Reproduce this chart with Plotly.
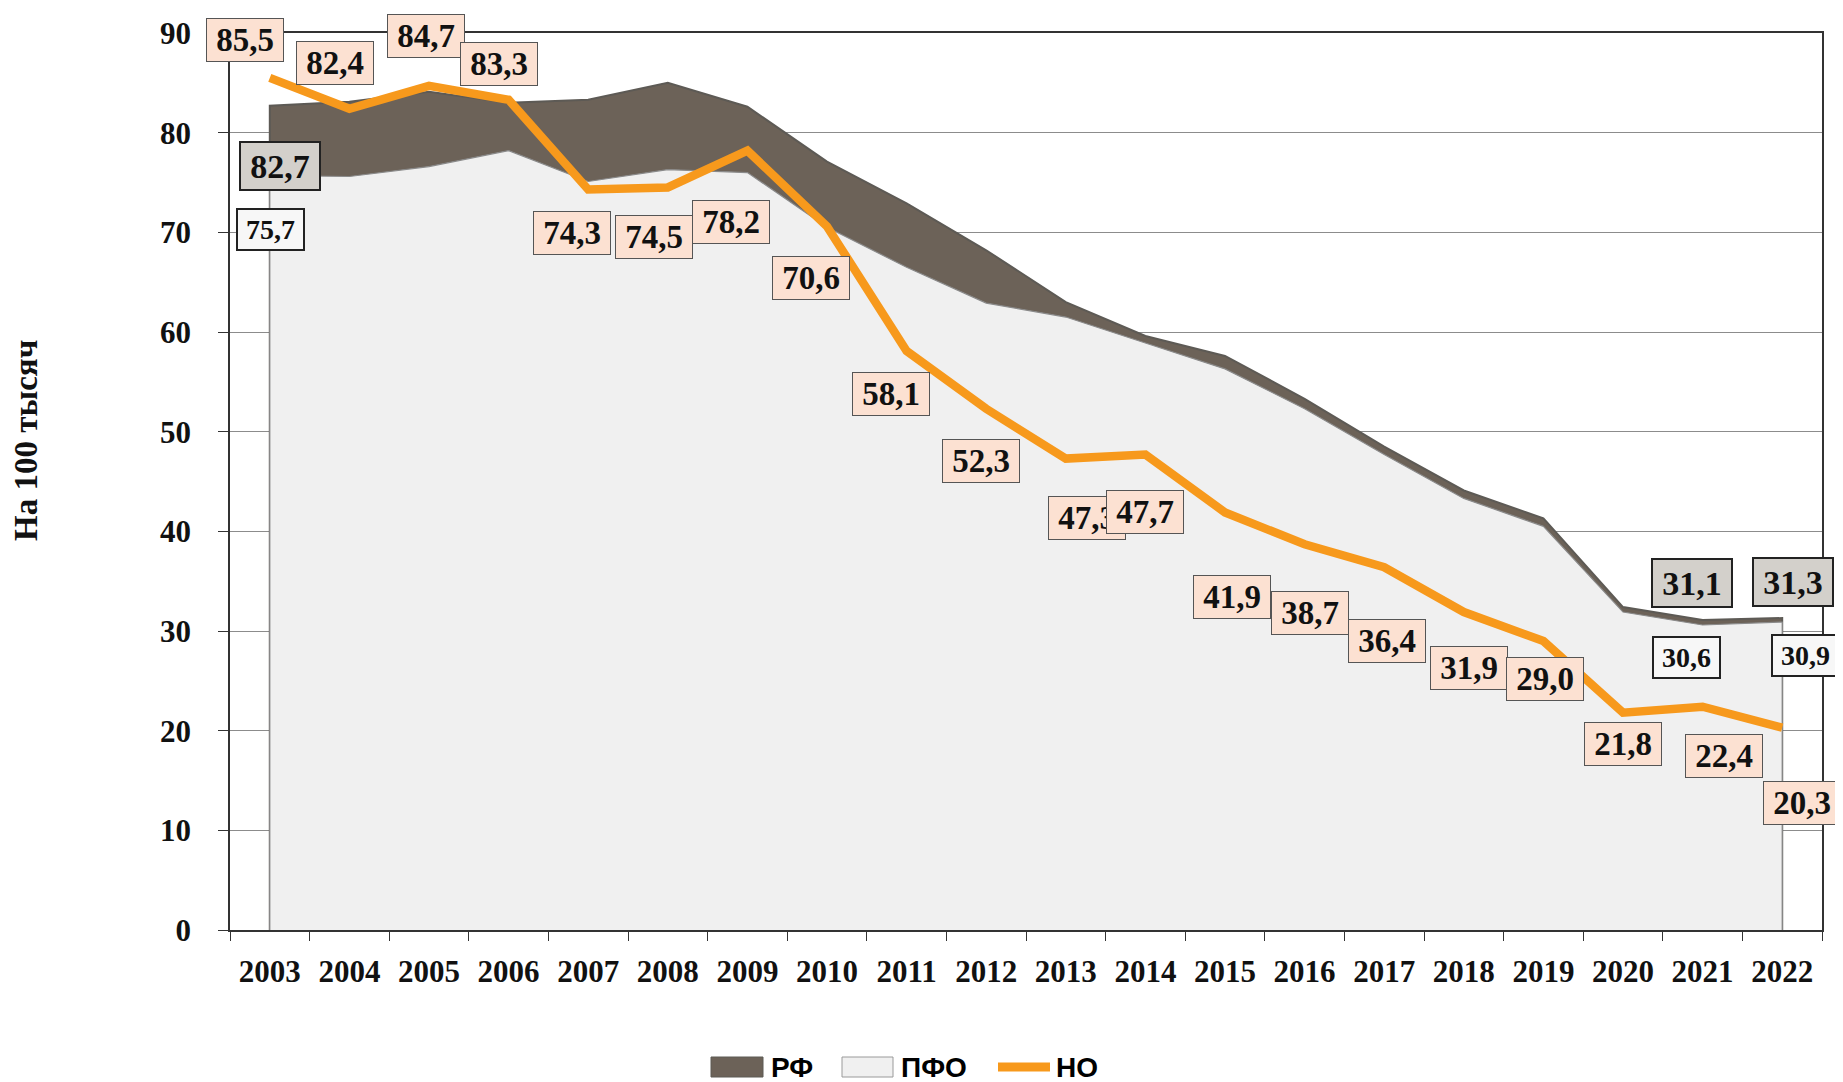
import plotly.graph_objects as go

years = ["2003", "2004", "2005", "2006", "2007", "2008", "2009", "2010", "2011", "2012",
         "2013", "2014", "2015", "2016", "2017", "2018", "2019", "2020", "2021", "2022"]
rf = [82.7, 83.1, 84.1, 83.0, 83.3, 85.0, 82.6, 77.1, 72.9, 68.2,
      63.0, 59.6, 57.6, 53.3, 48.5, 44.1, 41.3, 32.4, 31.1, 31.3]
pfo = [75.7, 75.6, 76.6, 78.2, 75.1, 76.3, 76.0, 70.5, 66.5, 62.9,
       61.5, 58.9, 56.3, 52.3, 47.7, 43.3, 40.5, 31.9, 30.6, 30.9]
no = [85.5, 82.4, 84.7, 83.3, 74.3, 74.5, 78.2, 70.6, 58.1, 52.3,
      47.3, 47.7, 41.9, 38.7, 36.4, 31.9, 29.0, 21.8, 22.4, 20.3]

rf_label_idx = [0, 18, 19]
pfo_label_idx = [0, 18, 19]
y_ticks = [0, 10, 20, 30, 40, 50, 60, 70, 80, 90]

# label offsets (px): (xshift, yshift)
no_off = [(-25, 38), (-14, 46), (-3, 50), (-10, 36), (-16, -44), (-14, -50), (-16, -71),
          (-16, -52), (-16, -43), (-5, -52), (21, -59), (0, -57), (7, -85), (5, -69),
          (3, -74), (5, -56), (2, -38), (0, -31), (21, -49), (20, -75)]
rf_off = [(10, -60), (-11, 37), (11, 36)]
pfo_off = [(1, -54), (-16, -32), (23, -33)]

DARK = "#6c6258"
LIGHT = "#f0f0f0"
ORANGE = "#f7991c"
SERIF = "Liberation Serif"


def fmt(v):
    return f"{v:.1f}".replace(".", ",")


def closed(xs, ys):
    return [xs[0]] + list(xs) + [xs[-1]], [0] + list(ys) + [0]


fig = go.Figure()
xr, yr = closed(years, rf)
fig.add_trace(go.Scatter(x=xr, y=yr, name="РФ", mode="lines", fill="toself",
                         fillcolor=DARK, line=dict(color="#5d5a55", width=2),
                         showlegend=False, hoverinfo="skip"))
xp, yp = closed(years, pfo)
fig.add_trace(go.Scatter(x=xp, y=yp, name="ПФО", mode="lines", fill="toself",
                         fillcolor=LIGHT, line=dict(color="#8a8a8a", width=1.2),
                         showlegend=False, hoverinfo="skip"))
fig.add_trace(go.Scatter(x=years, y=no, name="НО", mode="lines",
                         line=dict(color=ORANGE, width=8.5), showlegend=False))

anns = []
for i, (v, (dx, dy)) in enumerate(zip(no, no_off)):
    anns.append(dict(x=i, y=v, xref="x", yref="y", text=fmt(v), showarrow=False,
                     xshift=dx, yshift=dy, bgcolor="#fce1d2", bordercolor="#555555",
                     borderwidth=1, borderpad=2, width=72, height=38,
                     font=dict(family=SERIF, size=33, color="#111111", weight="bold")))
for k, i in enumerate(rf_label_idx):
    dx, dy = rf_off[k]
    anns.append(dict(x=i, y=rf[i], xref="x", yref="y", text=fmt(rf[i]), showarrow=False,
                     xshift=dx, yshift=dy, bgcolor="#d3d0cb", bordercolor="#222222",
                     borderwidth=2, borderpad=2, width=74, height=42,
                     font=dict(family=SERIF, size=34, color="#111111", weight="bold")))
for k, i in enumerate(pfo_label_idx):
    dx, dy = pfo_off[k]
    anns.append(dict(x=i, y=pfo[i], xref="x", yref="y", text=fmt(pfo[i]), showarrow=False,
                     xshift=dx, yshift=dy, bgcolor="#f7f7f7", bordercolor="#222222",
                     borderwidth=2, borderpad=1, width=63, height=37,
                     font=dict(family=SERIF, size=28, color="#111111", weight="bold")))

# page pixel -> paper coordinates (plot area spans page x 230..1822, y 33..930)
W, H, L, B = 1592.0, 897.0, 230.0, 930.0


def px(x):
    return (x - L) / W


def py(y):
    return (B - y) / H


# y-axis title
anns.append(dict(x=px(26), y=py(441), xref="paper", yref="paper", text="На 100 тысяч",
                 showarrow=False, textangle=-90, xanchor="center", yanchor="middle",
                 font=dict(family=SERIF, size=33, color="#111111", weight="bold")))

# custom legend
shapes = [
    dict(type="rect", xref="paper", yref="paper", x0=px(711), x1=px(763), y0=py(1077), y1=py(1057),
         fillcolor=DARK, line=dict(color="#5d5a55", width=1)),
    dict(type="rect", xref="paper", yref="paper", x0=px(842), x1=px(893), y0=py(1077), y1=py(1057),
         fillcolor=LIGHT, line=dict(color="#9a9a9a", width=1)),
    dict(type="line", xref="paper", yref="paper", x0=px(998), x1=px(1050), y0=py(1067), y1=py(1067),
         line=dict(color=ORANGE, width=9)),
]
for txt, x in [("РФ", 769), ("ПФО", 899), ("НО", 1054)]:
    anns.append(dict(x=px(x), y=py(1067), xref="paper", yref="paper", text=txt, showarrow=False,
                     xanchor="left", yanchor="middle",
                     font=dict(family="Liberation Sans", size=28, color="#000000", weight="bold")))

# page body has an 8px margin, so the figure is sized/offset to compensate
fig.update_layout(
    width=1835, height=1074,
    margin=dict(l=222, r=21, t=25, b=152, autoexpand=False),
    paper_bgcolor="white", plot_bgcolor="white",
    annotations=anns, shapes=shapes,
    showlegend=False,
)
fig.update_xaxes(type="category", categoryorder="array", categoryarray=years,
                 tickson="boundaries", ticks="outside", ticklen=9, tickcolor="#333333",
                 showgrid=False, showline=True, linecolor="#333333", linewidth=1.5, mirror=True,
                 tickfont=dict(family=SERIF, size=31, color="#111111", weight="bold"),
                 ticklabelstandoff=13, range=[-0.5, 19.5], automargin=False)
fig.update_yaxes(range=[0, 90], tickvals=y_ticks, ticks="outside", ticklen=10, tickcolor="#333333",
                 showgrid=True, gridcolor="#8c8c8c", gridwidth=1,
                 showline=True, linecolor="#333333", linewidth=1.5, mirror=True, zeroline=False,
                 tickfont=dict(family=SERIF, size=31, color="#111111", weight="bold"),
                 ticklabelstandoff=21, automargin=False)

fig.write_html("out.html")
